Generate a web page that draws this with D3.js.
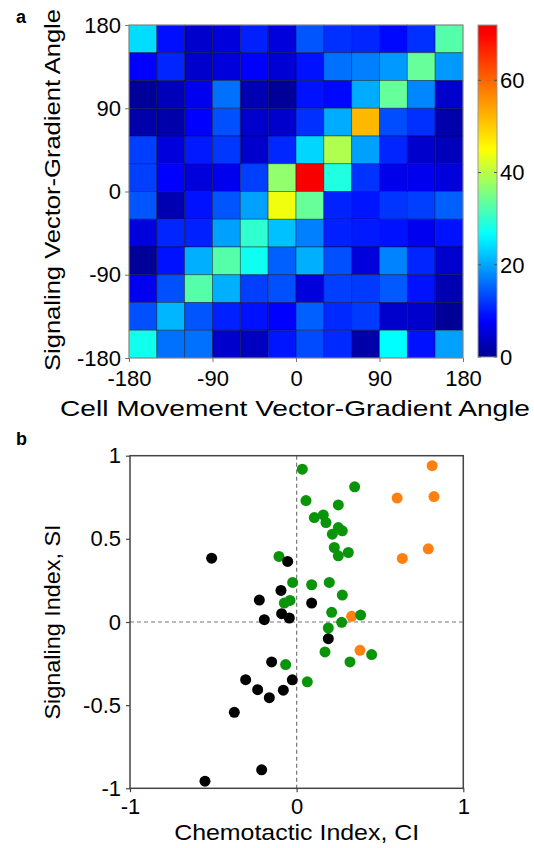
<!DOCTYPE html>
<html>
<head>
<meta charset="utf-8">
<script src="https://cdn.jsdelivr.net/npm/d3@7"></script>
<style>
  body { margin: 0; background: #fff; }
  text { font-family: "Liberation Sans", Arial, sans-serif; fill: #000; }
</style>
</head>
<body>
<svg id="fig" width="534" height="848"></svg>
<script>
// ---- panel a data: 12x12 histogram, rows from +180 (top) down to -180, cols -180 -> 180
const angleTicks = [-180, -90, 0, 90, 180];
const binEdges = [-180, -150, -120, -90, -60, -30, 0, 30, 60, 90, 120, 150, 180];
const counts = [
  [24, 9, 4.4, 5.6, 10.3, 5.6, 14.2, 11.5, 10.7, 8.5, 11.5, 32.7],
  [8, 10.7, 4.4, 5.6, 8, 5, 9.2, 16.1, 17.3, 19.1, 33.9, 19.1],
  [0.7, 3.1, 7, 16.1, 2.5, 0.7, 9.2, 8.5, 20.5, 33.9, 17.8, 4.4],
  [2, 2, 8, 13.8, 4.4, 4.4, 11.5, 20.5, 52, 13.5, 11.5, 2],
  [12.6, 5.6, 9.8, 12, 4.4, 10.8, 23.5, 39.3, 19.6, 10.7, 4.4, 3.1],
  [12.6, 8, 5.6, 6.8, 12.6, 37, 71, 28.8, 11.7, 6.5, 6.8, 5.6],
  [14.2, 2.5, 9.2, 14.2, 19.6, 44, 33.9, 10.5, 9.5, 11.8, 12.6, 15],
  [5.6, 10.7, 10.3, 19.6, 30, 22, 17.3, 10.3, 9.8, 9.2, 7, 9.2],
  [0.7, 9.2, 20.8, 32.7, 27.5, 15, 20.8, 13.8, 5.6, 17.5, 10.7, 4.4],
  [6.8, 13.8, 32.7, 20.8, 12.6, 13.8, 5.6, 12.6, 12.2, 14.5, 9.2, 2.5],
  [13.8, 21.3, 14.2, 10.3, 9.2, 8, 15, 11, 12.2, 4.4, 4.4, 0.7],
  [27.7, 16.1, 16.1, 4.4, 3.5, 9.5, 13.4, 11, 2, 26.5, 9.2, 19.6]
];
const colorTicks = [0, 20, 40, 60];
const colorMax = 72;

// ---- panel b data: [CI, SI]
const blackPoints = [
  [-0.51, 0.384], [-0.054, 0.364], [-0.094, 0.19], [-0.224, 0.132], [-0.09, 0.05],
  [-0.044, 0.024], [-0.194, 0.014], [0.09, 0.114], [0.19, -0.1], [-0.15, -0.24],
  [-0.306, -0.347], [-0.026, -0.348], [-0.234, -0.407], [-0.08, -0.41], [-0.164, -0.455],
  [-0.374, -0.543], [-0.21, -0.889], [-0.55, -0.957]
];
const greenPoints = [
  [0.034, 0.919], [-0.106, 0.394], [-0.024, 0.238], [-0.074, 0.114], [-0.04, 0.13],
  [0.348, 0.813], [0.056, 0.73], [0.25, 0.704], [0.106, 0.628], [0.16, 0.644],
  [0.176, 0.598], [0.25, 0.568], [0.274, 0.548], [0.214, 0.528], [0.226, 0.448],
  [0.31, 0.418], [0.25, 0.398], [0.09, 0.224], [0.196, 0.238], [0.274, 0.162],
  [0.21, 0.058], [0.384, 0.042], [0.27, -0.002], [0.19, -0.036], [0.17, -0.18],
  [0.32, -0.24], [0.45, -0.196], [-0.066, -0.256], [0.064, -0.36]
];
const orangePoints = [
  [0.813, 0.94], [0.603, 0.745], [0.824, 0.754], [0.79, 0.44], [0.634, 0.382],
  [0.33, 0.034], [0.38, -0.17]
];
const ciTicks = [-1, 0, 1];
const siTicks = [-1, -0.5, 0, 0.5, 1];

const svg = d3.select('#fig');
const fmt = d => String(d).replace('\u2212', '-');
const fs = 22;
const font = '"Liberation Sans", Arial, sans-serif';

// titles in the original are set a little wider than Arial, so stretch them
function title(x, y, rot, len, txt) {
  svg.append('text')
    .attr('transform', `translate(${x},${y}) rotate(${rot})`)
    .attr('text-anchor', 'middle')
    .attr('font-size', fs)
    .attr('textLength', len)
    .attr('lengthAdjust', 'spacingAndGlyphs')
    .text(txt);
}

// ================= panel a =================
const hx = d3.scaleLinear().domain([-180, 180]).range([129, 463]);
const hy = d3.scaleLinear().domain([180, -180]).range([25, 358]);

// jet-like colour map
const jet = d3.scaleLinear()
  .domain([0, 8, 26.5, 45, 70, colorMax])
  .range(['#00008f', '#0000ff', '#00ffff', '#ffff00', '#ff0000', '#f00000'])
  .clamp(true);

const cells = [];
counts.forEach((row, r) => row.forEach((v, c) => cells.push({ r, c, v })));

svg.append('g')
  .selectAll('rect')
  .data(cells)
  .join('rect')
    .attr('x', d => hx(binEdges[d.c]))
    .attr('y', d => hy(binEdges[12 - d.r]))
    .attr('width', d => hx(binEdges[d.c + 1]) - hx(binEdges[d.c]))
    .attr('height', d => hy(binEdges[11 - d.r]) - hy(binEdges[12 - d.r]))
    .attr('fill', d => jet(d.v))
    .attr('stroke', 'rgba(0,0,0,0.45)')
    .attr('stroke-width', 0.8);

svg.append('rect')
  .attr('x', 129).attr('y', 25).attr('width', 334).attr('height', 333)
  .attr('fill', 'none').attr('stroke', '#999').attr('stroke-width', 1);

// axes
const hxAxis = svg.append('g')
  .attr('transform', 'translate(0,358)')
  .call(d3.axisBottom(hx).tickValues(angleTicks).tickFormat(fmt).tickSize(4).tickPadding(8));
const hyAxis = svg.append('g')
  .attr('transform', 'translate(129,0)')
  .call(d3.axisLeft(hy).tickValues(angleTicks).tickFormat(fmt).tickSize(4).tickPadding(4));
[hxAxis, hyAxis].forEach(a => {
  a.select('.domain').remove();
  a.selectAll('line').attr('stroke', '#777');
  a.selectAll('text').attr('font-size', fs).attr('font-family', font);
});

title(60, 190, -90, 362, 'Signaling Vector-Gradient Angle');
title(295, 416, 0, 470, 'Cell Movement Vector-Gradient Angle');

svg.append('text')
  .attr('x', 16).attr('y', 23)
  .attr('font-size', 18).attr('font-weight', 'bold')
  .text('a');

// colour bar
const cb = d3.scaleLinear().domain([0, colorMax]).range([357, 25]);
const grad = svg.append('defs').append('linearGradient')
  .attr('id', 'cbar').attr('x1', 0).attr('y1', 1).attr('x2', 0).attr('y2', 0);
grad.selectAll('stop')
  .data(d3.range(0, 49))
  .join('stop')
    .attr('offset', i => i / 48)
    .attr('stop-color', i => jet(i / 48 * colorMax));

svg.append('rect')
  .attr('x', 478).attr('y', cb(colorMax)).attr('width', 19).attr('height', cb(0) - cb(colorMax))
  .attr('fill', 'url(#cbar)').attr('stroke', '#999').attr('stroke-width', 1);

const cbTicks = svg.append('g').selectAll('g').data(colorTicks).join('g');
cbTicks.append('line')
  .attr('x1', 478).attr('x2', 481)
  .attr('y1', d => cb(d)).attr('y2', d => cb(d))
  .attr('stroke', '#555');
cbTicks.append('line')
  .attr('x1', 494).attr('x2', 497)
  .attr('y1', d => cb(d)).attr('y2', d => cb(d))
  .attr('stroke', '#555');
cbTicks.append('text')
  .attr('x', 500).attr('y', d => cb(d))
  .attr('dy', '0.36em')
  .attr('font-size', fs)
  .text(d => d);

// ================= panel b =================
const sx = d3.scaleLinear().domain([-1, 1]).range([130, 463.3]);
const sy = d3.scaleLinear().domain([1, -1]).range([455.7, 788.3]);

// zero lines
svg.append('line')
  .attr('x1', sx(0)).attr('x2', sx(0)).attr('y1', sy(1)).attr('y2', sy(-1))
  .attr('stroke', '#777').attr('stroke-width', 1.2).attr('stroke-dasharray', '4,3');
svg.append('line')
  .attr('x1', sx(-1)).attr('x2', sx(1)).attr('y1', sy(0)).attr('y2', sy(0))
  .attr('stroke', '#777').attr('stroke-width', 1.2).attr('stroke-dasharray', '4,3');

// frame
svg.append('rect')
  .attr('x', sx(-1)).attr('y', sy(1))
  .attr('width', sx(1) - sx(-1)).attr('height', sy(-1) - sy(1))
  .attr('fill', 'none').attr('stroke', '#444').attr('stroke-width', 1.5);

const sxAxis = svg.append('g')
  .attr('transform', `translate(0,${sy(-1)})`)
  .call(d3.axisBottom(sx).tickValues(ciTicks).tickFormat(fmt).tickSize(4).tickPadding(6));
const syAxis = svg.append('g')
  .attr('transform', `translate(${sx(-1)},0)`)
  .call(d3.axisLeft(sy).tickValues(siTicks).tickFormat(fmt).tickSize(4).tickPadding(5));
[sxAxis, syAxis].forEach(a => {
  a.select('.domain').remove();
  a.selectAll('line').attr('stroke', '#444').attr('stroke-width', 1.2);
  a.selectAll('text').attr('font-size', fs).attr('font-family', font);
});

const groups = [
  { pts: orangePoints, color: '#ff7f10' },
  { pts: greenPoints, color: '#0a940a' },
  { pts: blackPoints, color: '#000000' }
];
groups.forEach(g => {
  svg.append('g')
    .selectAll('circle')
    .data(g.pts)
    .join('circle')
      .attr('cx', d => sx(d[0]))
      .attr('cy', d => sy(d[1]))
      .attr('r', 5.5)
      .attr('fill', g.color);
});

title(60, sy(0), -90, 195, 'Signaling Index, SI');
title(sx(0), 840, 0, 245, 'Chemotactic Index, CI');

svg.append('text')
  .attr('x', 16).attr('y', 445)
  .attr('font-size', 18).attr('font-weight', 'bold')
  .text('b');
</script>
</body>
</html>
